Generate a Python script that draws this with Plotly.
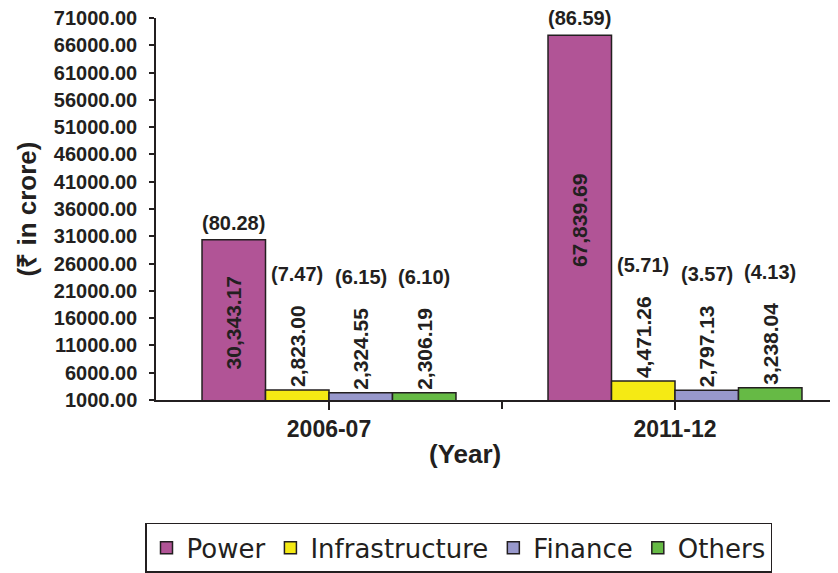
import plotly.graph_objects as go

years = ["2006-07", "2011-12"]
sectors = ["Power", "Infrastructure", "Finance", "Others"]
power = [30343.17, 67839.69]
infrastructure = [2823.00, 4471.26]
finance = [2324.55, 2797.13]
others = [2306.19, 3238.04]
power_pct = [80.28, 86.59]
infrastructure_pct = [7.47, 5.71]
finance_pct = [6.15, 3.57]
others_pct = [6.10, 4.13]

series = [power, infrastructure, finance, others]
pcts = [power_pct, infrastructure_pct, finance_pct, others_pct]
colors = ["#B15496", "#F5EA14", "#9898CC", "#66BA45"]

OFF = 8  # default body margin of the html page
W, H = 838 - OFF, 573 - OFF
L, T = 156 - OFF, 18 - OFF
plot_h = 389
B = H - T - plot_h
plot_w = W - L
dark = "#231f20"
val_font = dict(family="Liberation Sans", size=21, color=dark, weight="bold")
pct_font = dict(family="Liberation Sans", size=20, color=dark, weight="bold")


def px_x(px):
    return (px - OFF - L) / plot_w


def px_y(py):
    return 1 - (py - OFF - T) / plot_h


bargap = 0.266
bar_w = (1 - bargap) / len(sectors)

fig = go.Figure()
for name, vals, col in zip(sectors, series, colors):
    pos = ["inside" if v > 10000 else "outside" for v in vals]
    fig.add_trace(go.Bar(
        name=name, x=years, y=vals, marker=dict(color=col, line=dict(color=dark, width=1.5)),
        texttemplate="%{y:,.2f}", textposition=pos, textangle=-90,
        insidetextanchor="middle", constraintext="none",
        textfont=val_font, insidetextfont=val_font, outsidetextfont=val_font,
        hoverinfo="skip",
    ))

# boundary ticks via overlay axis
fig.add_trace(go.Scatter(x=[], y=[], xaxis="x2", yaxis="y", showlegend=False))

annotations = []
for i, (vals, pc) in enumerate(zip(series, pcts)):
    for j, (v, p) in enumerate(zip(vals, pc)):
        annotations.append(dict(
            x=j + (i - 1.5) * bar_w, y=v, xref="x", yref="y",
            text=f"({p:.2f})", showarrow=False, yanchor="bottom", xanchor="center",
            yshift=4 if v > 10000 else 103, font=pct_font,
        ))
annotations.append(dict(
    x=px_x(465), y=px_y(462), xref="paper", yref="paper", text="(Year)",
    showarrow=False, xanchor="center", yanchor="middle",
    font=dict(family="Liberation Sans", size=26, color=dark, weight="bold"),
))

xr = [-0.5, -0.5 + plot_w / 346.0]
fig.update_layout(
    width=W, height=H, margin=dict(l=L, r=0, t=T, b=B),
    paper_bgcolor="white", plot_bgcolor="white",
    barmode="group", bargap=bargap, bargroupgap=0,
    annotations=annotations,
    xaxis=dict(type="category", range=xr, showline=True, linecolor=dark, linewidth=1.5,
               ticks="outside", ticklen=8, tickcolor=dark, tickwidth=1.5, automargin=False,
               tickfont=dict(family="Liberation Sans", size=23, color=dark, weight="bold"),
               showgrid=False, zeroline=False),
    xaxis2=dict(overlaying="x", anchor="y", side="bottom", range=xr, tickvals=[0.5],
                ticks="outside", ticklen=8, tickcolor=dark, tickwidth=1.5, automargin=False,
                showticklabels=False, showgrid=False, zeroline=False, showline=False),
    yaxis=dict(range=[1000, 71000], tickvals=list(range(1000, 71001, 5000)), tickformat=".2f",
               showline=True, linecolor=dark, linewidth=1.5, ticks="outside", ticklen=5,
               tickcolor=dark, tickwidth=1.5, showgrid=False, zeroline=False,
               ticklabelstandoff=8, automargin=False, ticklabeloverflow="allow",
               tickfont=dict(family="Liberation Sans", size=20, color=dark, weight="bold"),
               title=dict(text="(₹ in crore)", standoff=10,
                          font=dict(family="Liberation Sans", size=26, color=dark, weight="bold"))),
    legend=dict(orientation="h", x=px_x(145), xanchor="left", y=px_y(532),
                yanchor="top", bordercolor=dark, borderwidth=1.5, bgcolor="white",
                font=dict(family="DejaVu Sans", size=26, color=dark),
                traceorder="normal"),
    showlegend=True,
)
fig.write_html("out.html", config={"displayModeBar": False})
